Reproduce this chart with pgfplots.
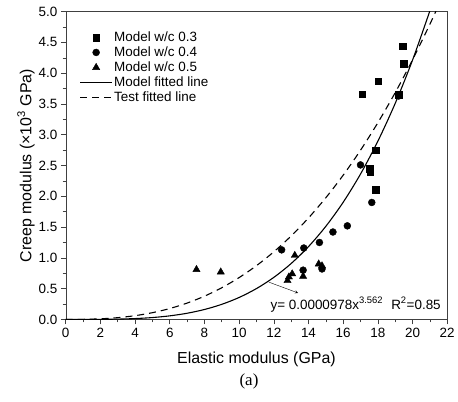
\documentclass[border=0pt]{standalone}
\usepackage{fontspec}
\setmainfont{Liberation Sans}
\newfontfamily\timesfont{Liberation Serif}
\usepackage{pgfplots}
\pgfplotsset{compat=1.18}
\pgfplotsset{
    markleg/.style={legend image code/.code={\draw[##1,mark repeat=2,mark phase=2] plot coordinates {(0pt,0pt) (16pt,0pt) (32pt,0pt)};}},
    lineleg/.style={legend image code/.code={\draw[##1] (0pt,0pt) -- (32pt,0pt);}},
}

\begin{document}
\begin{tikzpicture}
\begin{axis}[
    scale only axis,
    width=383pt, height=309pt,
    xmin=0, xmax=22, ymin=0, ymax=5,
    xtick={0,2,...,22}, minor x tick num=1,
    ytick={0,0.5,...,5}, minor y tick num=1,
    tick pos=left, tick align=outside,
    major tick length=5pt, minor tick length=3pt,
    axis line style={black!75}, tick style={black!75, semithick},
    /pgf/number format/assume math mode=true,
    yticklabel style={/pgf/number format/.cd, fixed, fixed zerofill, precision=1},
    tick label style={font=\fontsize{13.5}{15}\selectfont},
    label style={font=\fontsize{16}{18}\selectfont},
    xlabel={Elastic modulus (GPa)},
    ylabel={Creep modulus (×10\textsuperscript{3} GPa)},
    xlabel style={at={(axis description cs:0.5,-0.129)}, anchor=center},
    ylabel style={at={(axis description cs:-0.104,0.5)}, anchor=center},
    legend style={draw=none, fill=none, at={(axis description cs:0.036,0.94)},
        anchor=north west, font=\fontsize{13.5}{15.7}\selectfont,
        row sep=0.8pt, inner sep=0pt, nodes={inner sep=1.5pt}},
    legend cell align=left,
]
% model w/c 0.3
\addplot[only marks, mark=square*, mark size=3.4pt, black, markleg]
coordinates {
    (17.10,3.66) (17.52,2.45) (17.56,2.40) (17.86,2.75) (17.86,2.11)
    (18.02,3.87) (19.22,3.65) (19.45,4.44) (19.51,4.15)
};
\addlegendentry{Model w/c 0.3}

% model w/c 0.4
\addplot[only marks, mark=*, mark size=3.5pt, black, markleg]
coordinates {
    (12.45,1.13) (13.73,1.16) (13.69,0.80) (14.63,1.25) (14.78,0.82)
    (15.41,1.42) (16.24,1.52) (17.00,2.51) (17.65,1.90) (19.20,3.63)
};
\addlegendentry{Model w/c 0.4}

% model w/c 0.5
\addplot[only marks, mark=triangle*, mark size=4.2pt, black, markleg]
coordinates {
    (7.54,0.81) (8.94,0.77) (12.79,0.63) (12.87,0.69) (13.06,0.74)
    (13.21,1.04) (13.69,0.70) (14.59,0.90) (14.78,0.87)
};
\addlegendentry{Model w/c 0.5}

% model fit y = 0.0000978 x^3.562
\addplot[black, line width=1.1pt, smooth, lineleg]
coordinates {
    (0,0) (1,0.0001) (2,0.0012) (3,0.0049) (4,0.0136) (5,0.0302)
    (6,0.0578) (7,0.1001) (8,0.1611) (9,0.2451) (10,0.3567) (11,0.5009)
    (12,0.6829) (13,0.9081) (14,1.1828) (15,1.5124) (16,1.9030)
    (17,2.3615) (18,2.8951) (19,3.5093) (20,4.2126) (21,5.0124)
};
\addlegendentry{Model fitted line}

% test fit
\addplot[black, line width=1.1pt, smooth, dash pattern=on 7pt off 5pt, lineleg]
coordinates {
    (0,0) (1,0.0016) (2,0.0098) (3,0.0285) (4,0.0608) (5,0.1094)
    (6,0.1769) (7,0.2655) (8,0.3774) (9,0.5147) (10,0.6794) (11,0.8733)
    (12,1.0981) (13,1.3557) (14,1.6484) (15,1.9769) (16,2.3430)
    (17,2.7486) (18,3.1953) (19,3.6836) (20,4.2168) (21,4.7952) (21.5,5.103)
};
\addlegendentry{Test fitted line}

\draw[black, thin, -stealth] (axis cs:11.72,0.605) -- (axis cs:13.40,0.43);
\node[anchor=west, font=\fontsize{13.5}{15}\selectfont, inner sep=0pt]
    at (axis cs:11.8,0.24) {y= 0.0000978x\textsuperscript{3.562}\hspace{0.6em}R\textsuperscript{2}=0.85};
\end{axis}
\node[font=\timesfont\fontsize{17}{19}\selectfont] at ([xshift=184pt,yshift=-62pt]current axis.south west) {(a)};
\path (current axis.south west) ++(-66pt,-82.3pt) rectangle ++(458pt,403pt);
\end{tikzpicture}
\end{document}
